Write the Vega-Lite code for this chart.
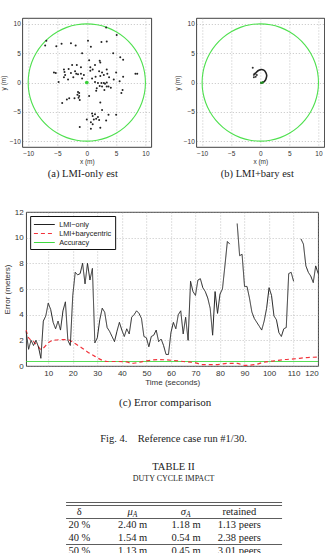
{
  "$schema": "https://vega.github.io/schema/vega-lite/v6.json",
  "background": "white",
  "padding": {"left": -1, "top": 17, "right": 0, "bottom": 0},
  "config": {
    "view": {"stroke": "#111", "strokeWidth": 0.8},
    "axis": {
      "grid": true, "gridColor": "#9a9a9a", "gridDash": [1, 2], "gridWidth": 0.6,
      "domain": false, "ticks": false, "labelFlush": false,
      "labelFont": "Liberation Sans", "titleFont": "Liberation Sans",
      "labelColor": "#333", "titleColor": "#333", "titleFontWeight": "normal"
    },
    "title": {"font": "Liberation Serif", "fontWeight": "normal", "color": "#222"}
  },
  "resolve": {
    "scale": {"color": "independent", "strokeDash": "independent"},
    "legend": {"color": "independent", "strokeDash": "independent"}
  },
  "datasets": {
    "ring": [
      {"deg": 0, "x": 10, "y": 0}, {"deg": 10, "x": 9.85, "y": 1.74}, {"deg": 20, "x": 9.4, "y": 3.42},
      {"deg": 30, "x": 8.66, "y": 5}, {"deg": 40, "x": 7.66, "y": 6.43}, {"deg": 50, "x": 6.43, "y": 7.66},
      {"deg": 60, "x": 5, "y": 8.66}, {"deg": 70, "x": 3.42, "y": 9.4}, {"deg": 80, "x": 1.74, "y": 9.85},
      {"deg": 90, "x": 0, "y": 10}, {"deg": 100, "x": -1.74, "y": 9.85}, {"deg": 110, "x": -3.42, "y": 9.4},
      {"deg": 120, "x": -5, "y": 8.66}, {"deg": 130, "x": -6.43, "y": 7.66}, {"deg": 140, "x": -7.66, "y": 6.43},
      {"deg": 150, "x": -8.66, "y": 5}, {"deg": 160, "x": -9.4, "y": 3.42}, {"deg": 170, "x": -9.85, "y": 1.74},
      {"deg": 180, "x": -10, "y": 0}, {"deg": 190, "x": -9.85, "y": -1.74}, {"deg": 200, "x": -9.4, "y": -3.42},
      {"deg": 210, "x": -8.66, "y": -5}, {"deg": 220, "x": -7.66, "y": -6.43}, {"deg": 230, "x": -6.43, "y": -7.66},
      {"deg": 240, "x": -5, "y": -8.66}, {"deg": 250, "x": -3.42, "y": -9.4}, {"deg": 260, "x": -1.74, "y": -9.85},
      {"deg": 270, "x": 0, "y": -10}, {"deg": 280, "x": 1.74, "y": -9.85}, {"deg": 290, "x": 3.42, "y": -9.4},
      {"deg": 300, "x": 5, "y": -8.66}, {"deg": 310, "x": 6.43, "y": -7.66}, {"deg": 320, "x": 7.66, "y": -6.43},
      {"deg": 330, "x": 8.66, "y": -5}, {"deg": 340, "x": 9.4, "y": -3.42}, {"deg": 350, "x": 9.85, "y": -1.74}
    ],
    "anchor": [{"x": 0, "y": 0}],
    "lmiOnlyEst": [
      {"x": 3.3, "y": 9.4}, {"x": 5.1, "y": 8.1}, {"x": -6.9, "y": 7.1}, {"x": -7.1, "y": 6.3}, {"x": -5.2, "y": 6.2},
      {"x": -4.3, "y": 6.6}, {"x": -2.7, "y": 6.7}, {"x": -1.9, "y": 6.3}, {"x": 0.2, "y": 7.1}, {"x": 0.7, "y": 6.1},
      {"x": 2.5, "y": 6.9}, {"x": 3.4, "y": 7.0}, {"x": -0.8, "y": 5.0}, {"x": 4.5, "y": 5.0}, {"x": 5.7, "y": 4.3},
      {"x": 6.2, "y": 3.9}, {"x": 0.4, "y": 3.8}, {"x": 2.2, "y": 3.7}, {"x": 2.3, "y": 3.4}, {"x": -5.6, "y": 1.7},
      {"x": -5.3, "y": 1.6}, {"x": -3.9, "y": 2.2}, {"x": -3.8, "y": 1.8}, {"x": -3.1, "y": 2.3}, {"x": -2.5, "y": 3.0},
      {"x": -1.7, "y": 3.0}, {"x": -1.0, "y": 2.6}, {"x": -2.0, "y": 1.9}, {"x": -1.8, "y": 1.5}, {"x": -1.5, "y": 1.4},
      {"x": -1.0, "y": 1.5}, {"x": -2.7, "y": 1.6}, {"x": -3.7, "y": 1.3}, {"x": -3.9, "y": 0.9}, {"x": -3.2, "y": 0.5},
      {"x": -2.3, "y": 0.9}, {"x": -0.8, "y": 0.7}, {"x": -0.5, "y": 1.3}, {"x": 0.6, "y": 2.6}, {"x": 0.6, "y": 2.0},
      {"x": 1.0, "y": 2.2}, {"x": 1.4, "y": 3.0}, {"x": 2.1, "y": 1.9}, {"x": 2.6, "y": 1.7}, {"x": 2.9, "y": 1.3},
      {"x": 3.4, "y": 2.2}, {"x": 3.5, "y": 1.5}, {"x": 2.3, "y": 1.1}, {"x": 1.5, "y": 1.0}, {"x": 0.9, "y": 0.7},
      {"x": 5.0, "y": 1.7}, {"x": 5.6, "y": 0.2}, {"x": 6.2, "y": 1.0}, {"x": 8.3, "y": 1.5}, {"x": 8.6, "y": 1.5},
      {"x": -4.8, "y": 0.1}, {"x": 1.4, "y": 0.1}, {"x": 1.9, "y": -0.1}, {"x": 2.5, "y": -0.1}, {"x": 2.9, "y": -0.1},
      {"x": 3.1, "y": -0.2}, {"x": 3.4, "y": 0.0}, {"x": 2.2, "y": -0.6}, {"x": 2.6, "y": -0.7}, {"x": 1.7, "y": -1.0},
      {"x": 3.4, "y": -0.7}, {"x": 4.1, "y": -0.9}, {"x": 3.7, "y": -0.7}, {"x": 3.0, "y": -1.3}, {"x": 3.8, "y": 0.9},
      {"x": 4.6, "y": 0.5}, {"x": 6.1, "y": -1.3}, {"x": 5.9, "y": -1.8}, {"x": -1.5, "y": -1.6}, {"x": -1.3, "y": -1.8},
      {"x": -1.6, "y": -2.1}, {"x": -1.3, "y": -2.3}, {"x": -1.4, "y": -2.6}, {"x": -1.2, "y": -3.0}, {"x": -2.1, "y": -2.7},
      {"x": -3.4, "y": -2.9}, {"x": -3.0, "y": -2.7}, {"x": -4.2, "y": -3.5}, {"x": 0.4, "y": -2.3}, {"x": 1.6, "y": -1.4},
      {"x": 2.3, "y": -3.4}, {"x": 2.6, "y": -4.7}, {"x": 0.9, "y": -5.3}, {"x": 1.0, "y": -5.7}, {"x": 1.4, "y": -5.4},
      {"x": 1.6, "y": -6.2}, {"x": 1.9, "y": -5.9}, {"x": 1.2, "y": -6.3}, {"x": 2.1, "y": -6.4}, {"x": 0.0, "y": -6.3},
      {"x": 0.7, "y": -6.8}, {"x": 1.0, "y": -7.1}, {"x": 2.3, "y": -7.7}, {"x": 0.7, "y": -7.9}, {"x": -1.2, "y": -7.6},
      {"x": 3.3, "y": -6.5}, {"x": 5.0, "y": -5.5}, {"x": 3.7, "y": -5.5}
    ],
    "baryTrack": [
      {"i": 1, "x": -1.2, "y": 1.2}, {"i": 2, "x": -0.8, "y": 1.6}, {"i": 3, "x": -0.4, "y": 2.0},
      {"i": 4, "x": 0.1, "y": 2.2}, {"i": 5, "x": 0.6, "y": 2.1}, {"i": 6, "x": 0.95, "y": 1.7},
      {"i": 7, "x": 1.1, "y": 1.2}, {"i": 8, "x": 1.0, "y": 0.7}, {"i": 9, "x": 0.8, "y": 0.3},
      {"i": 10, "x": 0.5, "y": 0.05}, {"i": 11, "x": 0.2, "y": -0.05}, {"i": 12, "x": 0.0, "y": 0.0}
    ],
    "baryStray": [
      {"x": -1.3, "y": 2.5}, {"x": -1.0, "y": 1.5}, {"x": -0.8, "y": 1.0}, {"x": -1.1, "y": 0.9}, {"x": -0.6, "y": 1.3}
    ],
    "baryTail": [
      {"i": 1, "x": 0.0, "y": 0.0}, {"i": 2, "x": 0.2, "y": -0.05}, {"i": 3, "x": 0.4, "y": 0.0}, {"i": 4, "x": 0.55, "y": 0.1}
    ],
    "lmiOnly": [
      {"t": 1, "LMI−only": 2.7}, {"t": 2, "LMI−only": 1.3}, {"t": 3, "LMI−only": 2.0}, {"t": 4, "LMI−only": 1.6},
      {"t": 5, "LMI−only": 2.0}, {"t": 6, "LMI−only": 1.5}, {"t": 7, "LMI−only": 0.6}, {"t": 8, "LMI−only": 3.5},
      {"t": 9, "LMI−only": 3.9}, {"t": 10, "LMI−only": 4.9}, {"t": 11, "LMI−only": 4.4}, {"t": 12, "LMI−only": 3.4},
      {"t": 13, "LMI−only": 2.9}, {"t": 14, "LMI−only": 3.5}, {"t": 15, "LMI−only": 2.8}, {"t": 16, "LMI−only": 4.3},
      {"t": 17, "LMI−only": 5.0}, {"t": 18, "LMI−only": 2.0}, {"t": 19, "LMI−only": 1.6}, {"t": 20, "LMI−only": 5.5},
      {"t": 21, "LMI−only": 7.3}, {"t": 22, "LMI−only": 7.1}, {"t": 23, "LMI−only": 7.2}, {"t": 24, "LMI−only": 8.0},
      {"t": 25, "LMI−only": 6.4}, {"t": 26, "LMI−only": 8.0}, {"t": 27, "LMI−only": 6.7}, {"t": 28, "LMI−only": 7.6},
      {"t": 29, "LMI−only": 1.8}, {"t": 30, "LMI−only": 2.2}, {"t": 31, "LMI−only": 3.6}, {"t": 32, "LMI−only": 4.5},
      {"t": 33, "LMI−only": 4.2}, {"t": 34, "LMI−only": 3.0}, {"t": 35, "LMI−only": 2.7}, {"t": 36, "LMI−only": 2.3},
      {"t": 37, "LMI−only": 1.9}, {"t": 38, "LMI−only": 2.7}, {"t": 39, "LMI−only": 3.4}, {"t": 40, "LMI−only": 2.8},
      {"t": 41, "LMI−only": 2.3}, {"t": 42, "LMI−only": 2.9}, {"t": 43, "LMI−only": 2.5}, {"t": 44, "LMI−only": 3.8},
      {"t": 45, "LMI−only": 4.0}, {"t": 46, "LMI−only": 4.3}, {"t": 47, "LMI−only": 4.1}, {"t": 48, "LMI−only": 3.7},
      {"t": 49, "LMI−only": 2.3}, {"t": 50, "LMI−only": 2.2}, {"t": 51, "LMI−only": 1.5}, {"t": 52, "LMI−only": 2.3},
      {"t": 53, "LMI−only": 2.4}, {"t": 54, "LMI−only": 2.8}, {"t": 55, "LMI−only": 1.9}, {"t": 56, "LMI−only": 2.1},
      {"t": 57, "LMI−only": 1.6}, {"t": 58, "LMI−only": 0.9}, {"t": 59, "LMI−only": 0.9}, {"t": 60, "LMI−only": 2.6},
      {"t": 61, "LMI−only": 3.4}, {"t": 62, "LMI−only": 2.9}, {"t": 63, "LMI−only": 4.0}, {"t": 64, "LMI−only": 4.3},
      {"t": 65, "LMI−only": 2.5}, {"t": 66, "LMI−only": 3.8}, {"t": 67, "LMI−only": 2.0}, {"t": 68, "LMI−only": 6.6},
      {"t": 69, "LMI−only": 5.8}, {"t": 70, "LMI−only": 5.5}, {"t": 71, "LMI−only": 6.7}, {"t": 72, "LMI−only": 6.8},
      {"t": 73, "LMI−only": 6.1}, {"t": 74, "LMI−only": 5.8}, {"t": 75, "LMI−only": 5.3}, {"t": 76, "LMI−only": 4.5},
      {"t": 77, "LMI−only": 2.4}, {"t": 78, "LMI−only": 5.8}, {"t": 79, "LMI−only": 4.1}, {"t": 80, "LMI−only": 5.6},
      {"t": 81, "LMI−only": 6.0}, {"t": 82, "LMI−only": 7.8}, {"t": 83, "LMI−only": 9.7}, {"t": 84, "LMI−only": 9.5},
      {"t": 85, "LMI−only": null}, {"t": 86, "LMI−only": null},
      {"t": 87, "LMI−only": 11.1}, {"t": 88, "LMI−only": 8.6}, {"t": 89, "LMI−only": 8.7}, {"t": 90, "LMI−only": 6.2},
      {"t": 91, "LMI−only": 6.2}, {"t": 92, "LMI−only": 5.3}, {"t": 93, "LMI−only": 4.2}, {"t": 94, "LMI−only": 3.7},
      {"t": 95, "LMI−only": 3.4}, {"t": 96, "LMI−only": 3.1}, {"t": 97, "LMI−only": 2.8}, {"t": 98, "LMI−only": 3.5},
      {"t": 99, "LMI−only": 4.5}, {"t": 100, "LMI−only": 6.1}, {"t": 101, "LMI−only": 5.5}, {"t": 102, "LMI−only": 3.9},
      {"t": 103, "LMI−only": 3.6}, {"t": 104, "LMI−only": 2.6}, {"t": 105, "LMI−only": 2.3}, {"t": 106, "LMI−only": 2.9},
      {"t": 107, "LMI−only": 3.0}, {"t": 108, "LMI−only": 7.2}, {"t": 109, "LMI−only": 7.3}, {"t": 110, "LMI−only": 6.6},
      {"t": 111, "LMI−only": null}, {"t": 112, "LMI−only": null},
      {"t": 113, "LMI−only": 9.9}, {"t": 114, "LMI−only": 9.5}, {"t": 115, "LMI−only": 7.8}, {"t": 116, "LMI−only": 7.3},
      {"t": 117, "LMI−only": 7.0}, {"t": 118, "LMI−only": 6.5}, {"t": 119, "LMI−only": 7.8}, {"t": 120, "LMI−only": 7.2}
    ],
    "barycentric": [
      {"t": 1, "LMI+barycentric": 2.8}, {"t": 2, "LMI+barycentric": 2.2}, {"t": 4, "LMI+barycentric": 1.9},
      {"t": 6, "LMI+barycentric": 1.5}, {"t": 7, "LMI+barycentric": 1.3}, {"t": 8, "LMI+barycentric": 1.4},
      {"t": 10, "LMI+barycentric": 1.8}, {"t": 12, "LMI+barycentric": 2.0}, {"t": 15, "LMI+barycentric": 2.05},
      {"t": 18, "LMI+barycentric": 2.05}, {"t": 20, "LMI+barycentric": 1.85}, {"t": 23, "LMI+barycentric": 1.5},
      {"t": 26, "LMI+barycentric": 1.1}, {"t": 29, "LMI+barycentric": 0.75}, {"t": 32, "LMI+barycentric": 0.45},
      {"t": 34, "LMI+barycentric": 0.35}, {"t": 38, "LMI+barycentric": 0.35}, {"t": 42, "LMI+barycentric": 0.32},
      {"t": 44, "LMI+barycentric": 0.2}, {"t": 46, "LMI+barycentric": 0.25}, {"t": 50, "LMI+barycentric": 0.4},
      {"t": 55, "LMI+barycentric": 0.5}, {"t": 60, "LMI+barycentric": 0.45}, {"t": 65, "LMI+barycentric": 0.35},
      {"t": 70, "LMI+barycentric": 0.25}, {"t": 73, "LMI+barycentric": 0.1}, {"t": 78, "LMI+barycentric": 0.1},
      {"t": 83, "LMI+barycentric": 0.2}, {"t": 87, "LMI+barycentric": 0.2}, {"t": 90, "LMI+barycentric": 0.05},
      {"t": 94, "LMI+barycentric": 0.1}, {"t": 98, "LMI+barycentric": 0.3}, {"t": 102, "LMI+barycentric": 0.4},
      {"t": 106, "LMI+barycentric": 0.5}, {"t": 110, "LMI+barycentric": 0.55}, {"t": 115, "LMI+barycentric": 0.65},
      {"t": 120, "LMI+barycentric": 0.7}
    ],
    "accuracy": [{"t": 1, "Accuracy": 0.35}, {"t": 120, "Accuracy": 0.35}],
    "dutyCycle": [
      {"row": "20 %", "mu": "2.40 m", "sigma": "1.18 m", "retained": "1.13 peers"},
      {"row": "40 %", "mu": "1.54 m", "sigma": "0.54 m", "retained": "2.38 peers"},
      {"row": "50 %", "mu": "1.13 m", "sigma": "0.45 m", "retained": "3.01 peers"}
    ],
    "dutyHeader": [
      {"row": "header", "col": "row", "main": "δ"},
      {"row": "header", "col": "mu", "main": "μ", "sub": "A"},
      {"row": "header", "col": "sigma", "main": "σ", "sub": "A"},
      {"row": "header", "col": "retained", "main": "retained"}
    ]
  },
  "vconcat": [
    {
      "hconcat": [
        {
          "width": 129, "height": 129,
          "title": {"text": "(a) LMI-only est", "orient": "bottom", "fontSize": 10.5, "offset": 4, "dx": -4},
          "encoding": {
            "x": {"field": "x", "type": "quantitative", "scale": {"domain": [-11, 11], "nice": false},
                  "axis": {"values": [-10, -5, 0, 5, 10], "title": "x (m)", "labelFontSize": 6.5, "titleFontSize": 6.5, "labelPadding": 3, "titlePadding": 2}},
            "y": {"field": "y", "type": "quantitative", "scale": {"domain": [-11, 11], "nice": false},
                  "axis": {"values": [-10, -5, 0, 5, 10], "title": "y (m)", "labelFontSize": 6.5, "titleFontSize": 6.5, "labelPadding": 2, "titlePadding": 3}}
          },
          "layer": [
            {"data": {"name": "ring"}, "mark": {"type": "line", "interpolate": "cardinal-closed", "color": "#4fe04f", "strokeWidth": 1.1}, "encoding": {"order": {"field": "deg"}}},
            {"data": {"name": "lmiOnlyEst"}, "mark": {"type": "point", "filled": true, "size": 4, "color": "#222", "opacity": 1}},
            {"data": {"name": "anchor"}, "mark": {"type": "point", "filled": true, "size": 14, "color": "#3ccf3c", "opacity": 1}}
          ]
        },
        {
          "width": 128, "height": 129,
          "title": {"text": "(b) LMI+bary est", "orient": "bottom", "fontSize": 10.5, "offset": 4, "dx": -3},
          "encoding": {
            "x": {"field": "x", "type": "quantitative", "scale": {"domain": [-11, 11], "nice": false},
                  "axis": {"values": [-10, -5, 0, 5, 10], "title": "x (m)", "labelFontSize": 6.5, "titleFontSize": 6.5, "labelPadding": 3, "titlePadding": 2}},
            "y": {"field": "y", "type": "quantitative", "scale": {"domain": [-11, 11], "nice": false},
                  "axis": {"values": [-10, -5, 0, 5, 10], "title": "y (m)", "labelFontSize": 6.5, "titleFontSize": 6.5, "labelPadding": 2, "titlePadding": 3}}
          },
          "layer": [
            {"data": {"name": "ring"}, "mark": {"type": "line", "interpolate": "cardinal-closed", "color": "#4fe04f", "strokeWidth": 1.1}, "encoding": {"order": {"field": "deg"}}},
            {"data": {"name": "baryTrack"}, "mark": {"type": "line", "interpolate": "cardinal", "color": "#222", "strokeWidth": 1.6}, "encoding": {"order": {"field": "i"}}},
            {"data": {"name": "baryStray"}, "mark": {"type": "point", "filled": true, "size": 4, "color": "#333", "opacity": 1}},
            {"data": {"name": "baryTail"}, "mark": {"type": "line", "color": "#1f8f1f", "strokeWidth": 2.2}, "encoding": {"order": {"field": "i"}}}
          ]
        }
      ],
      "spacing": 45,
      "bounds": "flush"
    },
    {
      "vconcat": [
        {
          "width": 292, "height": 154,
          "title": {"text": "(c) Error comparison", "orient": "bottom", "fontSize": 11, "offset": 11, "dx": -7},
          "encoding": {
            "x": {"field": "t", "type": "quantitative", "scale": {"domain": [1, 120], "nice": false},
                  "axis": {"values": [10, 20, 30, 40, 50, 60, 70, 80, 90, 100, 110, 120], "title": "Time (seconds)", "labelFontSize": 8, "titleFontSize": 8, "labelPadding": 3, "titlePadding": 1, "labelFlush": true}},
            "y": {"field": "err", "type": "quantitative", "scale": {"domain": [0, 12], "nice": false},
                  "axis": {"values": [0, 2, 4, 6, 8, 10, 12], "title": "Error (meters)", "labelFontSize": 8, "titleFontSize": 8, "labelPadding": 3, "titlePadding": 3}},
            "color": {"field": "series", "type": "nominal",
                      "scale": {"domain": ["LMI−only", "LMI+barycentric", "Accuracy"], "range": ["#222222", "#f2323a", "#3fd93f"]},
                      "legend": {"orient": "top-left", "offset": 4, "title": null, "strokeColor": "#111", "fillColor": "white", "padding": 3,
                                 "labelFont": "Liberation Sans", "labelFontSize": 7.3, "labelColor": "#222", "symbolType": "M-1,0H3.4",
                                 "symbolSize": 90, "symbolStrokeWidth": 1.1, "labelOffset": 15, "rowPadding": 0, "cornerRadius": 0}},
            "strokeDash": {"field": "series", "type": "nominal",
                           "scale": {"domain": ["LMI−only", "LMI+barycentric", "Accuracy"], "range": [[1, 0], [4, 3], [1, 0]]},
                           "legend": null}
          },
          "layer": [
            {"data": {"name": "accuracy"}, "transform": [{"fold": ["Accuracy"], "as": ["series", "err"]}],
             "mark": {"type": "line", "strokeWidth": 1}},
            {"data": {"name": "barycentric"}, "transform": [{"fold": ["LMI+barycentric"], "as": ["series", "err"]}],
             "mark": {"type": "line", "interpolate": "monotone", "strokeWidth": 1.2}},
            {"data": {"name": "lmiOnly"}, "transform": [{"fold": ["LMI−only"], "as": ["series", "err"]}],
             "mark": {"type": "line", "strokeWidth": 1, "invalid": "break-paths-show-domains"}}
          ]
        },
        {
          "width": 216, "height": 53,
          "view": {"stroke": null},
          "title": {
            "text": ["Fig. 4.\u00a0\u00a0\u00a0 Reference case run #1/30.", "TABLE II"],
            "subtitle": "DUTY CYCLE IMPACT",
            "fontSize": 10.5, "lineHeight": 28, "offset": 19,
            "subtitleFont": "Liberation Serif", "subtitleFontSize": 8, "subtitleColor": "#222", "subtitlePadding": 3
          },
          "encoding": {
            "x": {"field": "col", "type": "nominal",
                  "scale": {"type": "point", "domain": ["row", "mu", "sigma", "retained"], "padding": 0.525, "align": 0.246},
                  "axis": {"orient": "top", "offset": 3, "domain": true, "domainColor": "#333", "domainWidth": 0.8, "labels": false, "ticks": false, "grid": false, "title": null}},
            "y": {"field": "row", "type": "nominal",
                  "scale": {"type": "band", "domain": ["header", "20 %", "40 %", "50 %"], "paddingInner": 0, "paddingOuter": 0},
                  "axis": {"grid": true, "bandPosition": 0, "values": ["header", "20 %", "50 %"], "gridDash": [], "gridColor": "#333", "gridWidth": 0.8, "labels": false, "ticks": false, "domain": false, "title": null}}
          },
          "layer": [
            {"data": {"name": "dutyCycle"}, "transform": [{"fold": ["row", "mu", "sigma", "retained"], "as": ["col", "cell"]}],
             "mark": {"type": "text", "font": "Liberation Serif", "fontSize": 10.5, "color": "#222"},
             "encoding": {"text": {"field": "cell"}}},
            {"data": {"name": "dutyHeader"}, "transform": [{"filter": "!datum.sub"}],
             "mark": {"type": "text", "font": "Liberation Serif", "fontSize": 10.5, "color": "#222"},
             "encoding": {"text": {"field": "main"}, "fontStyle": {"condition": {"test": "datum.main === 'δ'", "value": "italic"}, "value": "normal"}}},
            {"data": {"name": "dutyHeader"}, "transform": [{"filter": "datum.sub"}],
             "mark": {"type": "text", "font": "Liberation Serif", "fontSize": 10.5, "fontStyle": "italic", "color": "#222", "align": "right"},
             "encoding": {"text": {"field": "main"}}},
            {"data": {"name": "dutyHeader"}, "transform": [{"filter": "datum.sub"}],
             "mark": {"type": "text", "font": "Liberation Serif", "fontSize": 7.5, "fontStyle": "italic", "color": "#222", "align": "left", "dy": 3},
             "encoding": {"text": {"field": "sub"}}}
          ]
        }
      ],
      "spacing": 24,
      "center": true,
      "resolve": {
        "scale": {"color": "independent", "strokeDash": "independent"},
        "legend": {"color": "independent", "strokeDash": "independent"}
      }
    }
  ],
  "spacing": 27,
  "center": true
}
